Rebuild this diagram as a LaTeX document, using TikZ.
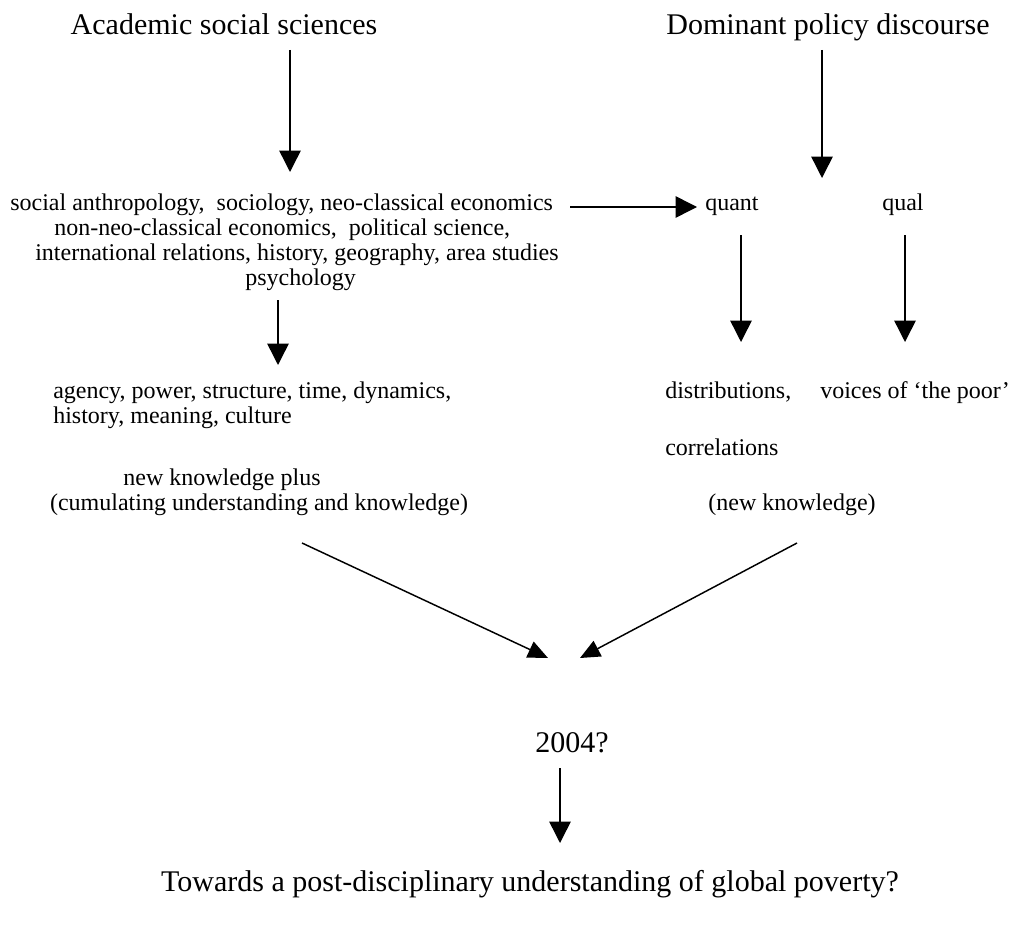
\documentclass[tikz,border=0pt]{standalone}
\usepackage{fontspec}
\setmainfont{Liberation Serif}
\usetikzlibrary{arrows.meta}
\begin{document}
\begin{tikzpicture}[x=0.75pt,y=-0.75pt,
 big/.style={font=\fontsize{22.5}{27}\selectfont, inner sep=0, text height=15.5pt, text depth=5pt},
 small/.style={font=\fontsize{18}{21}\selectfont, inner sep=0, anchor=west, text height=12.5pt, text depth=4pt},
 arr/.style={line width=1.1pt, -{Triangle[width=16pt,length=16pt]}},
 diag/.style={line width=1.1pt, -{Triangle[width=13pt,length=15pt]}}]
\useasboundingbox (0,0) rectangle (1012,927);
\node[big] (asc) at (224,28) {Academic social sciences};
\node[big] (dpd) at (828,28) {Dominant policy discourse};
\node[small] (d1) at (10,205) {social anthropology,\ \ sociology, neo-classical economics};
\node[small] (d2) at (54,230) {non-neo-classical economics,\ \ political science,};
\node[small] (d3) at (35,255) {international relations, history, geography, area studies};
\node[small] (d4) at (245,280) {psychology};
\node[small] (quant) at (705,205) {quant};
\node[small] (qual) at (882,205) {qual};
\node[small] (c1) at (53,393) {agency, power, structure, time, dynamics,};
\node[small] (c2) at (53,418) {history, meaning, culture};
\node[small] (dist) at (665,393) {distributions,};
\node[small] (voices) at (820,393) {voices of ‘the poor’};
\node[small] (corr) at (665,450) {correlations};
\node[small, anchor=center] (nk1) at (222,480) {new knowledge plus};
\node[small, anchor=center] (nk2) at (259,505) {(cumulating understanding and knowledge)};
\node[small, anchor=center] (nk3) at (792,505) {(new knowledge)};
\node[big] (y2004) at (572,745) {2004?};
\node[big] (tow) at (530,884) {Towards a post-disciplinary understanding of global poverty?};
% connector ends
\coordinate (a1s) at (290,50);  \coordinate (a1e) at (290,172);
\coordinate (a2s) at (822,50);  \coordinate (a2e) at (822,178);
\coordinate (hs) at (570,207);  \coordinate (he) at (697,207);
\coordinate (q1s) at (741,235); \coordinate (q1e) at (741,342);
\coordinate (q2s) at (905,235); \coordinate (q2e) at (905,342);
\coordinate (ls) at (278,300);  \coordinate (le) at (278,365);
\coordinate (g1s) at (302,543); \coordinate (g1e) at (548,658);
\coordinate (g2s) at (797,543); \coordinate (g2e) at (580,658);
\coordinate (vs) at (560,768);  \coordinate (ve) at (560,843);
\draw[arr] (a1s) -- (a1e);
\draw[arr] (a2s) -- (a2e);
\draw[arr] (hs) -- (he);
\draw[arr] (q1s) -- (q1e);
\draw[arr] (q2s) -- (q2e);
\draw[arr] (ls) -- (le);
\draw[diag] (g1s) -- (g1e);
\draw[diag] (g2s) -- (g2e);
\draw[arr] (vs) -- (ve);
\end{tikzpicture}
\end{document}
